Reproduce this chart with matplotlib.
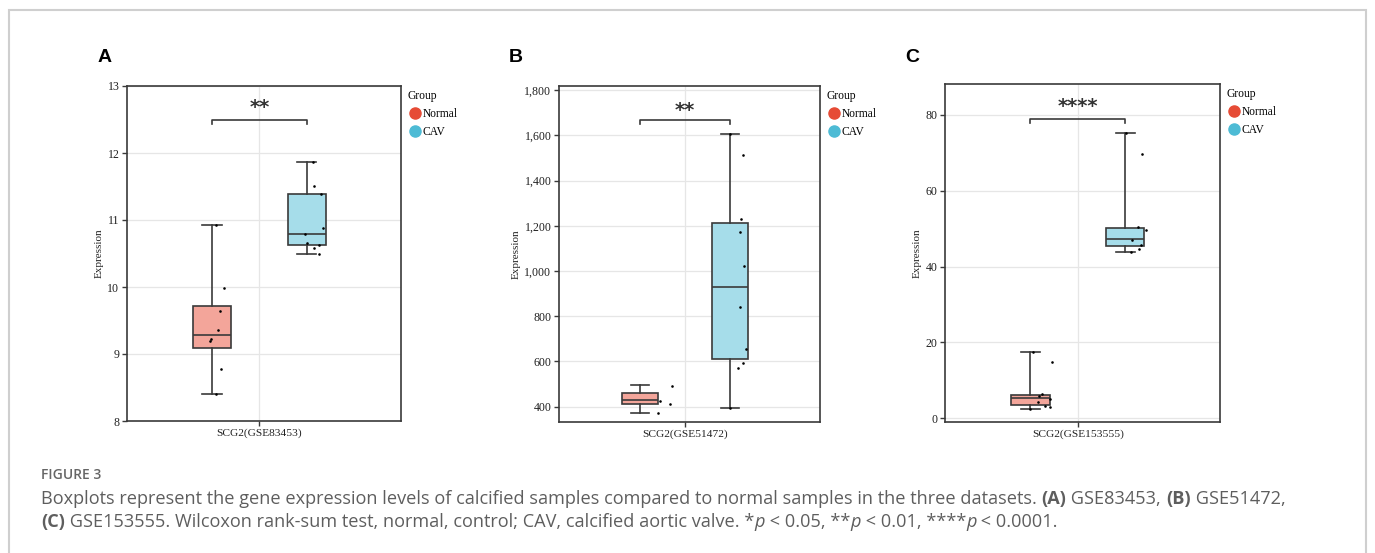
import numpy as np
import matplotlib
matplotlib.use("Agg")
import matplotlib.pyplot as plt
from matplotlib.lines import Line2D
from matplotlib.patches import Rectangle

# cores (paleta npg)
COR_NORMAL = "#E64B35"
COR_CAV = "#4DBBD5"
GRUPOS = ["Normal", "CAV"]

# painel A - GSE83453
A_LABEL = "SCG2(GSE83453)"
A_BOX_NORMAL = dict(q1=9.09, med=9.29, q3=9.72, whislo=8.40, whishi=10.93)
A_BOX_CAV = dict(q1=10.62, med=10.79, q3=11.385, whislo=10.495, whishi=11.87)
A_PTS_NORMAL = [9.98, 9.64, 9.36, 9.23, 9.19, 8.78, 10.93, 8.40]
A_JIT_NORMAL = [0.051, 0.034, 0.025, -0.007, -0.010, 0.038, 0.016, 0.016]
A_PTS_CAV = [11.87, 11.51, 11.385, 10.88, 10.79, 10.66, 10.62, 10.58, 10.50]
A_JIT_CAV = [0.029, 0.032, 0.061, 0.072, -0.006, 0.001, 0.054, 0.032, 0.054]
A_YTICKS = [8, 9, 10, 11, 12, 13]

# painel B - GSE51472
B_LABEL = "SCG2(GSE51472)"
B_BOX_NORMAL = dict(q1=412, med=431, q3=462, whislo=374, whishi=494)
B_BOX_CAV = dict(q1=612, med=931, q3=1214, whislo=396, whishi=1605)
B_PTS_NORMAL = [493, 427, 413, 374]
B_JIT_NORMAL = [0.147, 0.092, 0.138, 0.083]
B_PTS_CAV = [1605, 1514, 1230, 1171, 1022, 840, 654, 595, 569, 396]
B_JIT_CAV = [0.0, 0.057, 0.051, 0.043, 0.063, 0.046, 0.075, 0.057, 0.034, 0.0]
B_YTICKS = [400, 600, 800, 1000, 1200, 1400, 1600, 1800]

# painel C - GSE153555
C_LABEL = "SCG2(GSE153555)"
C_BOX_NORMAL = dict(q1=3.4, med=5.3, q3=6.25, whislo=2.4, whishi=17.58)
C_BOX_CAV = dict(q1=45.4, med=47.3, q3=50.25, whislo=43.96, whishi=75.25)
C_PTS_NORMAL = [17.58, 14.86, 6.3, 5.9, 5.0, 4.3, 3.2, 2.9, 2.46]
C_JIT_NORMAL = [0.013, 0.092, 0.052, 0.039, 0.087, 0.031, 0.065, 0.083, 0.0]
C_PTS_CAV = [75.25, 69.54, 50.46, 49.5, 47.1, 45.6, 44.66, 43.96]
C_JIT_CAV = [0.003, 0.073, 0.057, 0.088, 0.029, 0.070, 0.058, 0.026]
C_YTICKS = [0, 20, 40, 60, 80]

SERIF = ["Liberation Serif", "DejaVu Serif"]
SANS = ["Liberation Sans", "DejaVu Sans"]
CAPTION = ["Open Sans", "DejaVu Sans"]
COR_EIXO = "#3a3a3a"

fig = plt.figure(figsize=(13.75, 5.53), dpi=100)
W, H = 1375, 553


def eixo_px(x0, y0, x1, y1):
    return fig.add_axes([x0 / W, 1 - y1 / H, (x1 - x0) / W, (y1 - y0) / H])


def painel(ax, label, box_n, box_c, pts_n, jit_n, pts_c, jit_c, yticks, ylim,
           fmt, sig, y_sig, y_tip, y_txt):
    pos = [0.793, 1.207]
    stats = []
    for b, nome in zip([box_n, box_c], GRUPOS):
        d = dict(b)
        d["label"] = nome
        stats.append(d)
    bp = ax.bxp(stats, positions=pos, widths=0.166, patch_artist=True,
                showfliers=False, capwidths=0.085,
                boxprops=dict(linewidth=1.2, edgecolor=COR_EIXO),
                medianprops=dict(color=COR_EIXO, linewidth=1.2),
                whiskerprops=dict(color=COR_EIXO, linewidth=1.2),
                capprops=dict(color=COR_EIXO, linewidth=1.2), zorder=3)
    for patch, cor in zip(bp["boxes"], [COR_NORMAL, COR_CAV]):
        r, g, bb = matplotlib.colors.to_rgb(cor)
        patch.set_facecolor((r * 0.5 + 0.5, g * 0.5 + 0.5, bb * 0.5 + 0.5))

    for p0, pts, jit in [(pos[0], pts_n, jit_n), (pos[1], pts_c, jit_c)]:
        ax.scatter(p0 + np.array(jit), pts, s=3.5, color="black", zorder=4, linewidths=0)

    # barra de significancia
    ax.plot([pos[0], pos[0], pos[1], pos[1]], [y_tip, y_sig, y_sig, y_tip],
            color=COR_EIXO, linewidth=1.2, zorder=4)
    ax.text(np.mean(pos), y_txt, sig, ha="center", va="center",
            fontsize=14, fontweight="bold", color="#333333", family="DejaVu Sans")

    ax.set_xlim(0.42, 1.62)
    ax.set_ylim(*ylim)
    ax.set_xticks([1.0])
    ax.set_xticklabels([label], family=SERIF, fontsize=8.2, color="#222222")
    ax.set_yticks(yticks)
    ax.set_yticklabels([fmt(v) for v in yticks], family=SERIF, fontsize=8.6,
                       color="#222222")
    ax.set_ylabel("Expression", family=SERIF, fontsize=8, color="#222222",
                  labelpad=2.5)
    ax.grid(True, color="#e6e6e6", linewidth=0.9, zorder=0)
    ax.set_axisbelow(True)
    for s in ax.spines.values():
        s.set_color(COR_EIXO)
        s.set_linewidth(1.2)
    ax.tick_params(axis="both", length=3.5, width=1.0, color=COR_EIXO, pad=2)

    handles = [Line2D([], [], marker="o", linestyle="", markersize=8,
                      markerfacecolor=c, markeredgecolor=c)
               for c in [COR_NORMAL, COR_CAV]]
    leg = ax.legend(handles, GRUPOS, title="Group", loc="upper left",
                    bbox_to_anchor=(1.0, 1.01), frameon=False,
                    prop=dict(family=SERIF, size=8.3), handletextpad=0.0,
                    handlelength=1.3, labelspacing=0.55, borderaxespad=0.2,
                    alignment="left")
    leg.get_title().set_family(SERIF)
    leg.get_title().set_fontsize(8.3)


ax_a = eixo_px(127, 86, 401, 421)
ax_b = eixo_px(559, 86, 820, 422)
ax_c = eixo_px(945, 84, 1220, 422)

painel(ax_a, A_LABEL, A_BOX_NORMAL, A_BOX_CAV, A_PTS_NORMAL, A_JIT_NORMAL,
       A_PTS_CAV, A_JIT_CAV, A_YTICKS, (8, 13), lambda v: f"{v:g}",
       "**", 12.50, 12.43, 12.68)
painel(ax_b, B_LABEL, B_BOX_NORMAL, B_BOX_CAV, B_PTS_NORMAL, B_JIT_NORMAL,
       B_PTS_CAV, B_JIT_CAV, B_YTICKS, (332, 1819), lambda v: f"{v:,}",
       "**", 1670, 1650, 1712)
painel(ax_c, C_LABEL, C_BOX_NORMAL, C_BOX_CAV, C_PTS_NORMAL, C_JIT_NORMAL,
       C_PTS_CAV, C_JIT_CAV, C_YTICKS, (-0.97, 88.1), lambda v: f"{v:g}",
       "****", 79.0, 77.9, 82.3)

for letra, x in [("A", 98), ("B", 509), ("C", 905)]:
    fig.text(x / W, 1 - 58 / H, letra, family=SANS, fontweight="bold",
             fontsize=14, va="center", ha="left", color="black")

# moldura
fig.patches.append(Rectangle((9 / W, -0.05), (1366 - 9) / W, 1 - 10 / H + 0.05,
                             transform=fig.transFigure, fill=False,
                             edgecolor="#cfcfcf", linewidth=1.5))

# legenda da figura
fig.text(41 / W, 1 - 475 / H, "FIGURE 3", family=CAPTION, fontweight="semibold",
         fontsize=10, color="#666666", va="center")

renderer = fig.canvas.get_renderer()


def linha_rica(x_px, y_px, partes):
    x = x_px
    for txt, estilo in partes:
        kw = dict(family=CAPTION, fontsize=13.1, color="#5e5e5e", va="baseline")
        if estilo == "b":
            kw["fontweight"] = "bold"
        if estilo == "i":
            kw["style"] = "italic"
        t = fig.text(x / W, 1 - y_px / H, txt, **kw)
        x += t.get_window_extent(renderer).width


linha_rica(41, 504, [
    ("Boxplots represent the gene expression levels of calcified samples compared to "
     "normal samples in the three datasets. ", ""),
    ("(A)", "b"), (" GSE83453, ", ""), ("(B)", "b"), (" GSE51472,", "")])
linha_rica(41, 527, [
    ("(C)", "b"),
    (" GSE153555. Wilcoxon rank-sum test, normal, control; CAV, calcified aortic valve. *", ""),
    ("p", "i"), (" < 0.05, **", ""), ("p", "i"), (" < 0.01, ****", ""), ("p", "i"),
    (" < 0.0001.", "")])

fig.savefig("out.png", dpi=100)
